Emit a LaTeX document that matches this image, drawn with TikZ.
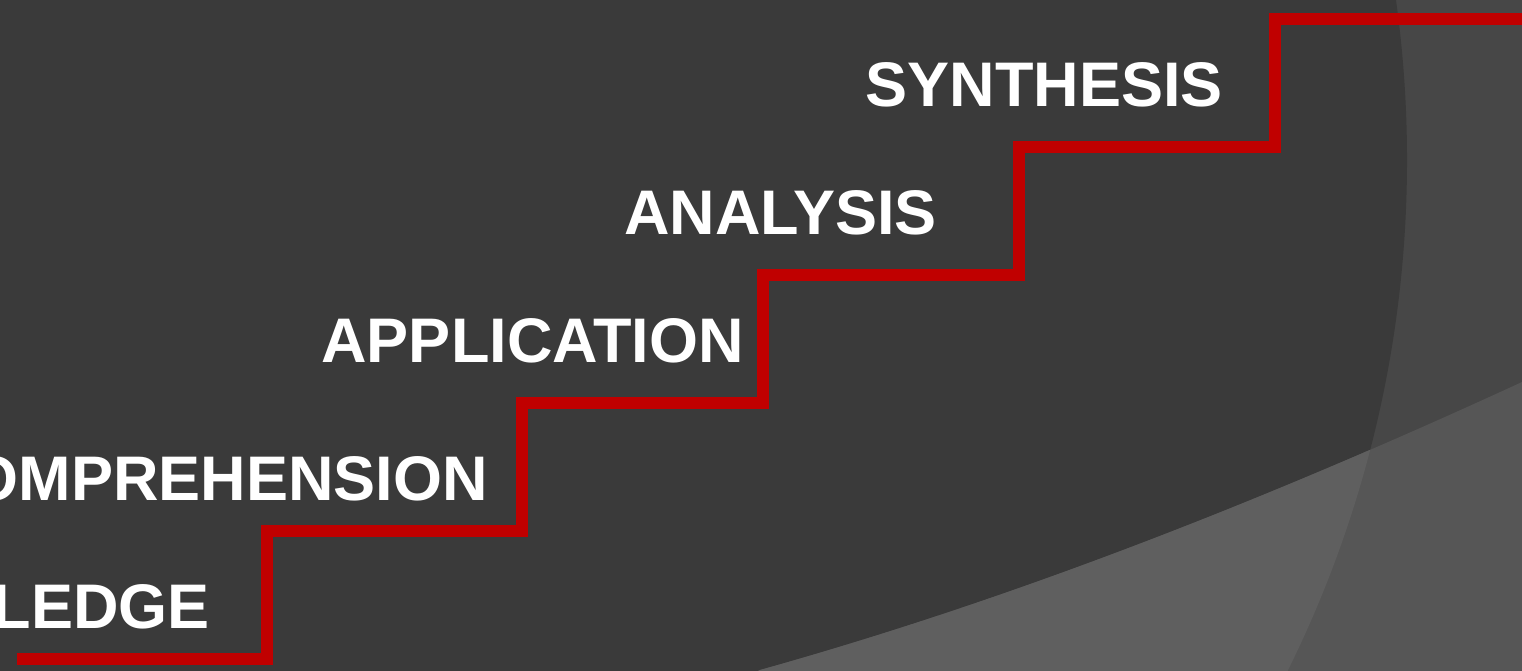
\documentclass[tikz,border=0pt]{standalone}
\usepackage{fontspec}
\setmainfont{Liberation Sans}

\definecolor{slate}{RGB}{58,58,58}
\definecolor{disc}{RGB}{71,71,71}
\definecolor{wedge}{RGB}{95,95,95}
\definecolor{discwedge}{RGB}{86,86,86}
\definecolor{stairred}{RGB}{192,0,0}

\begin{document}
\begin{tikzpicture}[x=1pt, y=-1pt,
    stair/.style={draw=stairred, line width=12pt, line join=miter},
    level/.style={anchor=base east, inner sep=0pt, text=white,
      font=\fontsize{63}{70}\selectfont\bfseries}]
    \begin{scope}
      \useasboundingbox (0,0) rectangle (1522,670);
      \clip (0,0) rectangle (1522,670);
      \fill[disc] (-10,-10) rectangle (1532,680);
      \fill[slate] (257,160) circle (1150pt);
      \fill[discwedge] (760,670) .. controls (1014,599) and (1268,499) .. (1522,382)
        -- (1532,382) -- (1532,680) -- (740,680) -- cycle;
      \begin{scope}
        \clip (257,160) circle (1150pt);
        \fill[wedge] (760,670) .. controls (1014,599) and (1268,499) .. (1522,382)
          -- (1532,382) -- (1532,680) -- (740,680) -- cycle;
      \end{scope}

      \draw[-, stair] (17,659) -- (267,659) -- (267,531) -- (522,531) -- (522,403)
        -- (763,403) -- (763,275) -- (1019,275) -- (1019,147) -- (1275,147)
        -- (1275,19) -- (1530,19);

      \node[level] (knowledge) at (210,628) {KNOWLEDGE};
      \node[level] (comprehension) at (488,500) {COMPREHENSION};
      \node[level] (application) at (744,362) {APPLICATION};
      \node[level] (analysis) at (937,234) {ANALYSIS};
      \node[level] (synthesis) at (1223,106) {SYNTHESIS};
    \end{scope}
  \end{tikzpicture}
\end{document}
